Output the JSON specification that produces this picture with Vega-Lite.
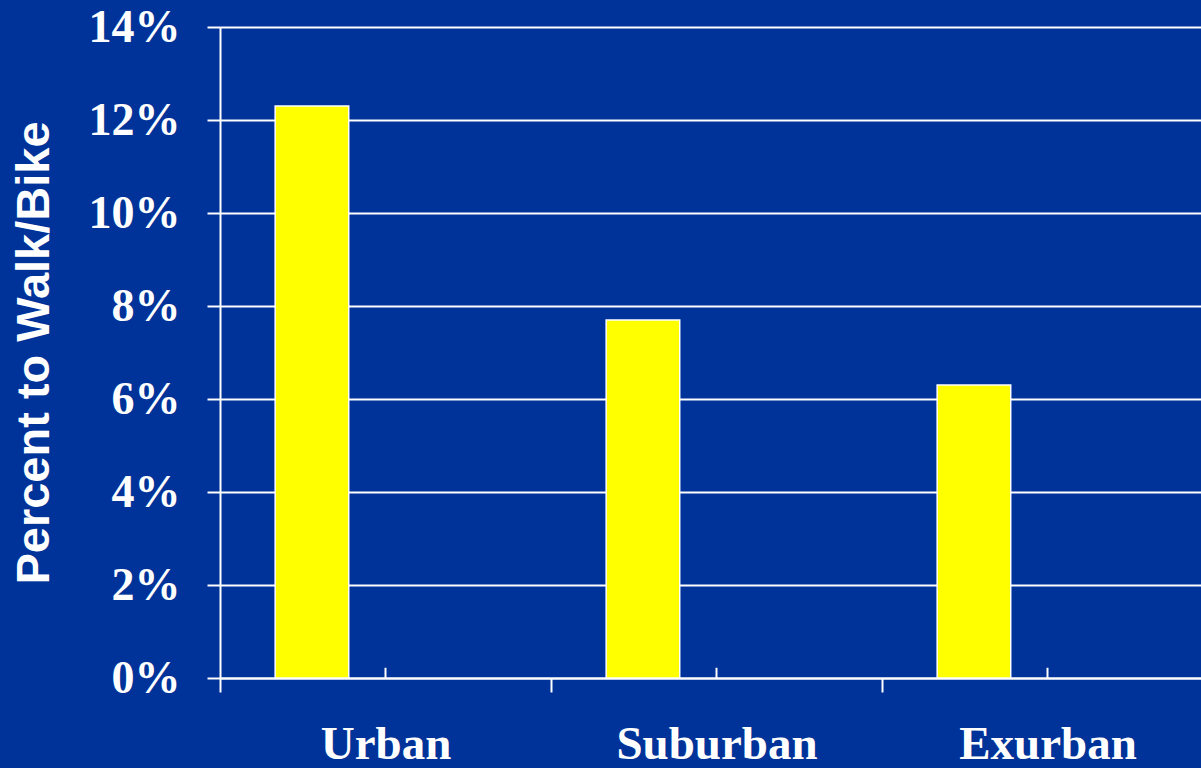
{
  "$schema": "https://vega.github.io/schema/vega-lite/v6.json",
  "autosize": {"type": "none"},
  "padding": {"left": 220, "top": 27, "right": 0, "bottom": 90},
  "width": 981,
  "height": 651,
  "background": "#003399",
  "config": {"view": {"stroke": null}},
  "data": {"values": [
    {"area": "Urban", "pct": 12.3},
    {"area": "Suburban", "pct": 7.7},
    {"area": "Exurban", "pct": 6.3}
  ]},
  "layer": [
    {
      "mark": {"type": "bar", "fill": "#ffff00", "stroke": "#ffffff", "strokeWidth": 1.5},
      "encoding": {
        "x": {
          "field": "area", "type": "nominal",
          "scale": {"domain": ["Urban", "Suburban", "Exurban"], "range": [0, 993], "paddingInner": 0, "paddingOuter": 0},
          "axis": {
            "title": null, "grid": false, "labelAngle": 0, "labelLimit": 0, "labelOverlap": false,
            "tickBand": "extent", "tickSize": 14, "tickWidth": 2, "tickColor": "#ffffff",
            "domainColor": "#ffffff", "domainWidth": 2,
            "labelFont": "Liberation Serif", "labelFontWeight": "bold", "labelFontSize": 47,
            "labelColor": "#ffffff", "labelPadding": 29
          }
        },
        "xOffset": {"datum": "s1", "scale": {"domain": ["s1", "s2", "s3"], "paddingInner": 0, "paddingOuter": 0.75}},
        "y": {
          "field": "pct", "type": "quantitative",
          "scale": {"domain": [0, 14]},
          "axis": {
            "title": "Percent to Walk/Bike",
            "values": [0, 2, 4, 6, 8, 10, 12, 14],
            "labelExpr": "datum.value + '%'",
            "grid": true, "gridColor": "#ffffff", "gridWidth": 2, "gridOpacity": 1,
            "tickSize": 13, "tickWidth": 2, "tickColor": "#ffffff",
            "domainColor": "#ffffff", "domainWidth": 2,
            "labelFont": "Liberation Serif", "labelFontWeight": "bold", "labelFontSize": 46,
            "labelColor": "#ffffff", "labelPadding": 27,
            "titleFont": "Liberation Sans", "titleFontWeight": "bold", "titleFontSize": 47,
            "titleColor": "#ffffff", "titlePadding": 30
          }
        }
      }
    },
    {
      "mark": {"type": "rule", "color": "#ffffff", "strokeWidth": 2},
      "encoding": {
        "x": {"field": "area", "type": "nominal"},
        "y": {"datum": 0},
        "y2": {"datum": 0.22}
      }
    }
  ]
}
